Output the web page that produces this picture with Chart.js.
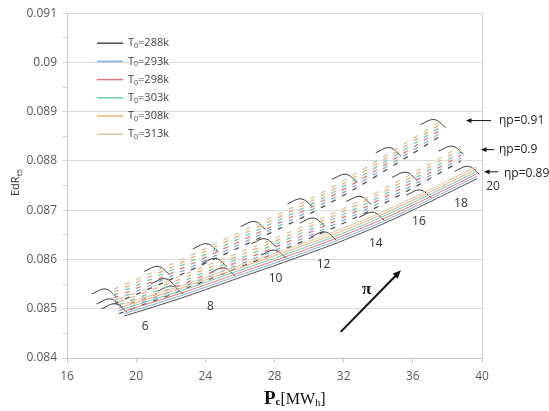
<!DOCTYPE html>
<html>
<head>
<meta charset="utf-8">
<script src="https://cdn.jsdelivr.net/npm/chart.js@4"></script>
<style>
html, body { margin: 0; padding: 0; background: #fff; }
</style>
</head>
<body>
<canvas id="chart" width="549" height="411"></canvas>
<script>
// pressure ratio pi at each point of a curve
const piValues = [6, 8, 10, 12, 14, 16, 18, 20];
const t0Labels = ['288', '293', '298', '303', '308', '313'];
const t0Colors = ['#505050', '#7fb0de', '#e57373', '#6ccab5', '#f0ac6c', '#ddc49c'];

// Pc [MWh] for each efficiency sheet
const pc089 = [19.30, 22.55, 25.57, 28.52, 31.42, 34.20, 36.93, 39.71];
const pc090 = [19.01, 22.17, 25.10, 27.96, 30.76, 33.45, 36.10, 38.78];
const pc091 = [18.72, 21.77, 24.59, 27.34, 30.05, 32.63, 35.16, 37.74];

// EdR, one row per T0 (288 ... 313)
const edr089 = [
    [0.08485, 0.08521, 0.08558, 0.08594, 0.08631, 0.08671, 0.08716, 0.08764],
    [0.08490, 0.08526, 0.08563, 0.08599, 0.08636, 0.08676, 0.08721, 0.08769],
    [0.08495, 0.08531, 0.08568, 0.08604, 0.08641, 0.08681, 0.08726, 0.08774],
    [0.08500, 0.08536, 0.08573, 0.08609, 0.08646, 0.08686, 0.08731, 0.08779],
    [0.08505, 0.08541, 0.08578, 0.08614, 0.08651, 0.08691, 0.08736, 0.08784],
    [0.08510, 0.08546, 0.08583, 0.08619, 0.08656, 0.08696, 0.08741, 0.08789]
];
const edr090 = [
    [0.08490, 0.08531, 0.08572, 0.08612, 0.08654, 0.08698, 0.08747, 0.08800],
    [0.08496, 0.08537, 0.08578, 0.08618, 0.08660, 0.08704, 0.08753, 0.08806],
    [0.08502, 0.08543, 0.08584, 0.08624, 0.08666, 0.08710, 0.08759, 0.08812],
    [0.08508, 0.08549, 0.08590, 0.08630, 0.08672, 0.08716, 0.08765, 0.08818],
    [0.08514, 0.08555, 0.08596, 0.08636, 0.08678, 0.08722, 0.08771, 0.08824],
    [0.08520, 0.08561, 0.08602, 0.08642, 0.08684, 0.08728, 0.08777, 0.08830]
];
const edr091 = [
    [0.08510, 0.08556, 0.08602, 0.08647, 0.08693, 0.08743, 0.08797, 0.08854],
    [0.08516, 0.08562, 0.08608, 0.08653, 0.08699, 0.08749, 0.08803, 0.08860],
    [0.08522, 0.08568, 0.08614, 0.08659, 0.08705, 0.08755, 0.08809, 0.08866],
    [0.08528, 0.08574, 0.08620, 0.08665, 0.08711, 0.08761, 0.08815, 0.08872],
    [0.08534, 0.08580, 0.08626, 0.08671, 0.08717, 0.08767, 0.08821, 0.08878],
    [0.08540, 0.08586, 0.08632, 0.08677, 0.08723, 0.08773, 0.08827, 0.08884]
];

// black arcs at each pi (left, top, right)
const arcs089 = [
    [[18.00, 0.08500], [18.80, 0.08510], [19.45, 0.08494]],
    [[21.25, 0.08536], [22.05, 0.08546], [22.70, 0.08530]],
    [[24.27, 0.08573], [25.07, 0.08583], [25.72, 0.08567]],
    [[27.22, 0.08609], [28.02, 0.08619], [28.67, 0.08603]],
    [[30.12, 0.08646], [30.92, 0.08656], [31.57, 0.08640]],
    [[32.90, 0.08686], [33.70, 0.08696], [34.35, 0.08680]],
    [[35.63, 0.08731], [36.43, 0.08741], [37.08, 0.08725]],
    [[38.41, 0.08779], [39.21, 0.08789], [39.86, 0.08773]]
];
const arcs090 = [
    [[17.71, 0.08510], [18.51, 0.08520], [19.16, 0.08504]],
    [[20.87, 0.08551], [21.67, 0.08561], [22.32, 0.08545]],
    [[23.80, 0.08592], [24.60, 0.08602], [25.25, 0.08586]],
    [[26.66, 0.08632], [27.46, 0.08642], [28.11, 0.08626]],
    [[29.46, 0.08674], [30.26, 0.08684], [30.91, 0.08668]],
    [[32.15, 0.08718], [32.95, 0.08728], [33.60, 0.08712]],
    [[34.80, 0.08767], [35.60, 0.08777], [36.25, 0.08761]],
    [[37.48, 0.08820], [38.28, 0.08830], [38.93, 0.08814]]
];
const arcs091 = [
    [[17.42, 0.08530], [18.22, 0.08540], [18.87, 0.08524]],
    [[20.47, 0.08576], [21.27, 0.08586], [21.92, 0.08570]],
    [[23.29, 0.08622], [24.09, 0.08632], [24.74, 0.08616]],
    [[26.04, 0.08667], [26.84, 0.08677], [27.49, 0.08661]],
    [[28.75, 0.08713], [29.55, 0.08723], [30.20, 0.08707]],
    [[31.33, 0.08763], [32.13, 0.08773], [32.78, 0.08757]],
    [[33.86, 0.08817], [34.66, 0.08827], [35.31, 0.08811]],
    [[36.44, 0.08874], [37.24, 0.08884], [37.89, 0.08868]]
];

// pi labels next to the curves
const piLabelPc  = [20.52, 24.29, 28.06, 30.84, 33.86, 36.35, 38.78, 40.64];
const piLabelEdr = [0.08463, 0.08505, 0.08562, 0.08590, 0.08633, 0.08677, 0.08714, 0.08748];

// efficiency arrows on the right
const etaLabels = ['\u03b7p=0.91', '\u03b7p=0.9', '\u03b7p=0.89'];
const etaArrowFrom = [40.52, 40.70, 40.93];
const etaArrowTo = [39.07, 39.94, 40.12];
const etaArrowEdr = [0.08882, 0.08823, 0.08778];
const etaTextPc = [40.98, 40.98, 41.27];

// pi direction arrow
const piArrowPc = [31.83, 35.31];
const piArrowEdr = [0.08453, 0.08578];
const piTextPos = [33.33, 0.08538];

function curve(pcs, edrs, color, dash, width) {
    return {
        data: pcs.map(function (x, i) { return { x: x, y: edrs[i] }; }),
        borderColor: color,
        borderWidth: width,
        borderDash: dash,
        pointRadius: 0,
        showLine: true,
        tension: 0.3,
        fill: false
    };
}

function arcSet(arcs) {
    let pts = [];
    for (let i = 0; i < arcs.length; i++) {
        for (let j = 0; j < arcs[i].length; j++) {
            pts.push({ x: arcs[i][j][0], y: arcs[i][j][1] });
        }
        pts.push({ x: arcs[i][2][0], y: null });
    }
    return {
        data: pts,
        borderColor: '#333333',
        borderWidth: 1,
        pointRadius: 0,
        showLine: true,
        spanGaps: false,
        tension: 0.4,
        fill: false
    };
}

let datasets = [];
for (let k = 0; k < t0Labels.length; k++) {
    datasets.push(curve(pc089, edr089[k], t0Colors[k], [], 1));
}
for (let k = 0; k < t0Labels.length; k++) {
    datasets.push(curve(pc090, edr090[k], t0Colors[k], [5, 7], 1.3));
}
for (let k = 0; k < t0Labels.length; k++) {
    datasets.push(curve(pc091, edr091[k], t0Colors[k], [5, 7], 1.3));
}
datasets.push(arcSet(arcs089));
datasets.push(arcSet(arcs090));
datasets.push(arcSet(arcs091));

function drawParts(ctx, parts, x, y) {
    for (let i = 0; i < parts.length; i++) {
        let p = parts[i];
        ctx.font = p.font;
        ctx.fillText(p.t, x, y + (p.dy || 0));
        x += ctx.measureText(p.t).width;
    }
    return x;
}

function arrow(ctx, x1, y1, x2, y2, head, width) {
    let a = Math.atan2(y2 - y1, x2 - x1);
    ctx.lineWidth = width;
    ctx.beginPath();
    ctx.moveTo(x1, y1);
    ctx.lineTo(x2 - Math.cos(a) * head * 0.6, y2 - Math.sin(a) * head * 0.6);
    ctx.stroke();
    ctx.beginPath();
    ctx.moveTo(x2, y2);
    ctx.lineTo(x2 - head * Math.cos(a - 0.4), y2 - head * Math.sin(a - 0.4));
    ctx.lineTo(x2 - head * Math.cos(a + 0.4), y2 - head * Math.sin(a + 0.4));
    ctx.closePath();
    ctx.fill();
}

const decor = {
    id: 'decor',
    afterDraw: function (chart) {
        const ctx = chart.ctx;
        const area = chart.chartArea;
        const xs = chart.scales.x;
        const ys = chart.scales.y;
        ctx.save();

        // right border
        ctx.strokeStyle = '#d0d0d0';
        ctx.lineWidth = 1;
        ctx.beginPath();
        ctx.moveTo(area.right + 0.5, area.top);
        ctx.lineTo(area.right + 0.5, area.bottom);
        ctx.stroke();

        // legend
        ctx.textBaseline = 'middle';
        ctx.fillStyle = '#404040';
        for (let k = 0; k < t0Labels.length; k++) {
            let y = area.top + 30 + k * 18.2;
            ctx.strokeStyle = t0Colors[k];
            ctx.lineWidth = 1.5;
            ctx.beginPath();
            ctx.moveTo(area.left + 30, y);
            ctx.lineTo(area.left + 56, y);
            ctx.stroke();
            drawParts(ctx, [
                { t: 'T', font: '11px "Open Sans"' },
                { t: '0', font: '7px "Open Sans"', dy: 3 },
                { t: '=' + t0Labels[k] + 'k', font: '11px "Open Sans"' }
            ], area.left + 61, y);
        }

        // pi labels
        ctx.fillStyle = '#333';
        ctx.font = '12px "Open Sans"';
        ctx.textAlign = 'center';
        for (let i = 0; i < piValues.length; i++) {
            ctx.fillText(String(piValues[i]), xs.getPixelForValue(piLabelPc[i]), ys.getPixelForValue(piLabelEdr[i]));
        }

        // eta arrows and labels
        ctx.strokeStyle = '#111';
        ctx.fillStyle = '#111';
        for (let i = 0; i < etaLabels.length; i++) {
            let y = ys.getPixelForValue(etaArrowEdr[i]);
            arrow(ctx, xs.getPixelForValue(etaArrowFrom[i]), y, xs.getPixelForValue(etaArrowTo[i]), y, 6, 1);
            ctx.textAlign = 'left';
            ctx.font = '12px "Open Sans"';
            ctx.fillStyle = '#222';
            ctx.fillText(etaLabels[i], xs.getPixelForValue(etaTextPc[i]), y + (i === 2 ? 2 : 0));
            ctx.fillStyle = '#111';
        }

        // pi arrow
        arrow(ctx, xs.getPixelForValue(piArrowPc[0]), ys.getPixelForValue(piArrowEdr[0]),
            xs.getPixelForValue(piArrowPc[1]), ys.getPixelForValue(piArrowEdr[1]), 9, 2);
        ctx.font = 'bold 17px "Liberation Serif"';
        ctx.textAlign = 'center';
        ctx.fillText('\u03c0', xs.getPixelForValue(piTextPos[0]), ys.getPixelForValue(piTextPos[1]));

        // x title
        ctx.textAlign = 'left';
        ctx.textBaseline = 'alphabetic';
        ctx.fillStyle = '#111';
        drawParts(ctx, [
            { t: 'P', font: 'bold 19px "Liberation Serif"' },
            { t: 'c', font: 'bold 11px "Liberation Serif"', dy: 1 },
            { t: '[MW', font: '16px "Liberation Serif"' },
            { t: 'h', font: '10px "Liberation Serif"', dy: 2 },
            { t: ']', font: '16px "Liberation Serif"' }
        ], 264, 404);

        // y title
        ctx.translate(16, 184);
        ctx.rotate(-Math.PI / 2);
        ctx.fillStyle = '#333';
        ctx.textBaseline = 'middle';
        drawParts(ctx, [
            { t: 'EdR', font: '11px "Open Sans"' },
            { t: 't5', font: '8px "Open Sans"', dy: 4 }
        ], -12, 0);

        ctx.restore();
    }
};

new Chart(document.getElementById('chart'), {
    type: 'scatter',
    data: { datasets: datasets },
    options: {
        responsive: false,
        animation: false,
        events: [],
        layout: { padding: { left: 0, right: 67, top: 12, bottom: 0 } },
        plugins: {
            legend: { display: false },
            tooltip: { enabled: false }
        },
        scales: {
            x: {
                type: 'linear',
                min: 16,
                max: 40,
                afterFit: function (s) { s.height = 53; },
                ticks: {
                    stepSize: 4,
                    padding: 6,
                    color: '#595959',
                    font: { family: 'Open Sans', size: 12 }
                },
                grid: { drawOnChartArea: false, tickLength: 5, color: '#c8c8c8' },
                border: { color: '#c8c8c8' }
            },
            y: {
                min: 0.084,
                max: 0.091,
                afterFit: function (s) { s.width = 67; },
                ticks: {
                    stepSize: 0.0005,
                    padding: 6,
                    color: '#595959',
                    font: { family: 'Open Sans', size: 12 },
                    callback: function (v) {
                        let m = v * 1000;
                        if (Math.abs(m - Math.round(m)) < 1e-6) {
                            return String(+v.toFixed(3));
                        }
                        return '';
                    }
                },
                grid: {
                    tickLength: 4,
                    color: function (c) {
                        let m = c.tick.value * 1000;
                        return Math.abs(m - Math.round(m)) < 1e-6 ? '#dcdcdc' : 'rgba(0,0,0,0)';
                    },
                    tickColor: '#d0d0d0'
                },
                border: { color: '#c8c8c8' }
            }
        }
    },
    plugins: [decor]
});
</script>
</body>
</html>
